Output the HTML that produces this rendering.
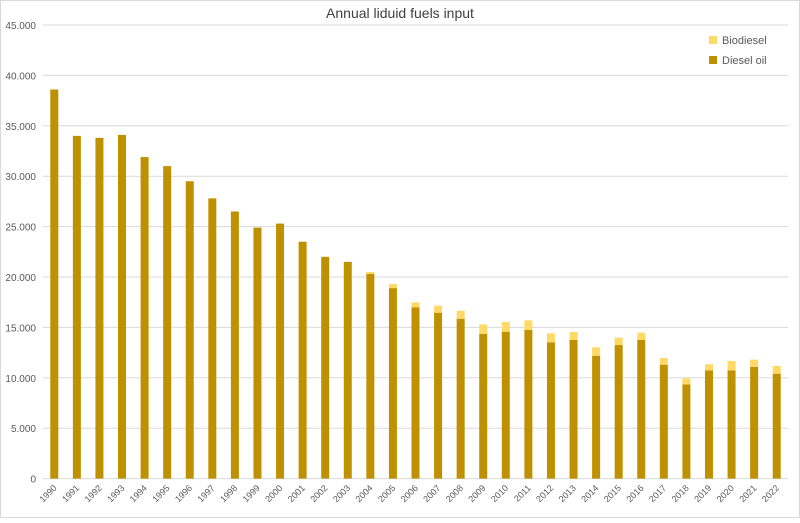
<!DOCTYPE html>
<html><head><meta charset="utf-8"><style>
body{margin:0;background:#fff;font-family:"Liberation Sans",sans-serif}
svg text{font-family:"Liberation Sans",sans-serif;fill:#595959}
</style></head><body>
<svg width="800" height="518" xmlns="http://www.w3.org/2000/svg">
<rect x="0.5" y="0.5" width="799" height="517" fill="#fff" stroke="#d9d9d9"/>
<text x="400" y="18" text-anchor="middle" font-size="14" style="fill:#404040">Annual liduid fuels input</text>
<g id="grid"></g><g id="bars"></g><g id="xl"></g>
<g>
<rect x="709" y="36" width="8" height="8" fill="#FFD966"/>
<text x="722" y="44" font-size="11">Biodiesel</text>
<rect x="709" y="56" width="8" height="8" fill="#BF9000"/>
<text x="722" y="64" font-size="11">Diesel oil</text>
</g>
</svg>
<script>
const years=[1990,1991,1992,1993,1994,1995,1996,1997,1998,1999,2000,2001,2002,2003,2004,2005,2006,2007,2008,2009,2010,2011,2012,2013,2014,2015,2016,2017,2018,2019,2020,2021,2022];
const diesel=[38600,34000,33800,34100,31900,31000,29500,27800,26500,24900,25300,23500,22000,21500,20300,18900,17000,16460,15860,14350,14570,14740,13520,13750,12190,13250,13750,11300,9350,10740,10740,11070,10410];
const biodiesel=[0,0,0,0,0,0,0,0,0,0,0,0,0,0,200,400,490,690,800,950,970,960,890,790,830,730,720,660,600,600,930,730,760];
const yTicks=[0,5000,10000,15000,20000,25000,30000,35000,40000,45000];
const tickLabels=["0","5.000","10.000","15.000","20.000","25.000","30.000","35.000","40.000","45.000"];
const NS="http://www.w3.org/2000/svg";
const x0=43,x1=788,y0=478.6,ymax=45000,ytop=25;
const y=v=>y0-(v/ymax)*(y0-ytop);
const step=(x1-x0)/years.length;
const xc=i=>x0+step*(i+0.5);
function mk(t,a,p){const e=document.createElementNS(NS,t);for(const k in a)e.setAttribute(k,a[k]);p.appendChild(e);return e;}
const g=document.getElementById('grid'),b=document.getElementById('bars'),xl=document.getElementById('xl');
yTicks.forEach((v,i)=>{
 const l=mk('line',{x1:x0,x2:x1,y1:y(v),y2:y(v),stroke:'#d9d9d9','stroke-width':1},g);
 
 
 const t=mk('text',{x:36,y:y(v)+4,'text-anchor':'end','font-size':10},g);
 t.textContent=tickLabels[i];
 
 
});
const bw=8;
years.forEach((yr,i)=>{
 const d=mk('rect',{x:xc(i)-bw/2,y:y(diesel[i]),width:bw,height:y0-y(diesel[i]),fill:'#BF9000'},b);
 
 
 if(biodiesel[i]>0){
  const h=y(diesel[i])-y(diesel[i]+biodiesel[i]);
  const r=mk('rect',{x:xc(i)-bw/2,y:y(diesel[i]+biodiesel[i]),width:bw,height:h,fill:'#FFD966'},b);
  
  
 }
 const t=mk('text',{x:xc(i)+3,y:y0+10,'text-anchor':'end','font-size':9,transform:`rotate(-45 ${xc(i)+3} ${y0+10})`},xl);
 t.textContent=yr;
 
 
});
</script>
</body></html>
